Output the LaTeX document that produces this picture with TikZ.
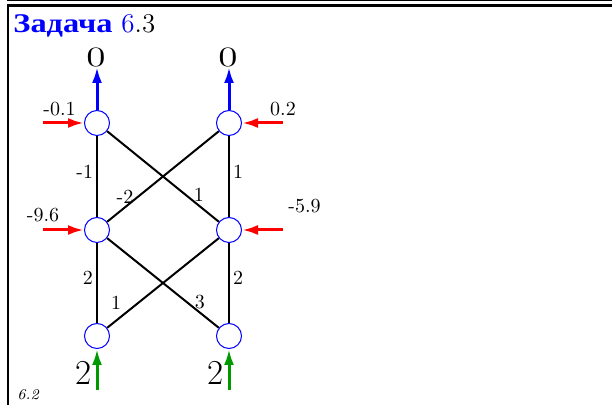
\documentclass[tikz,border=0pt]{standalone}
\usepackage{fontspec}
\usepackage{graphicx}
\newfontfamily\cyrfont[FakeStretch=1.2]{Liberation Serif}
\usetikzlibrary{arrows.meta,positioning}
\definecolor{neuroncolor}{RGB}{0,0,255}
\definecolor{biascolor}{RGB}{255,0,0}
\definecolor{inputcolor}{RGB}{0,153,0}

\begin{document}
\begin{tikzpicture}[
    x=0.5pt, y=-0.5pt,
    every node/.style={inner sep=0pt},
    neuron/.style={circle, draw=neuroncolor, line width=0.5pt, fill=white, minimum size=12.5pt},
    weight/.style={line width=1pt, black},
    wlabel/.style={font=\fontsize{10}{12}\selectfont, inner sep=1.5pt},
    biaslabel/.style={font=\fontsize{10}{12}\selectfont},
    biglabel/.style={font=\fontsize{14}{16}\selectfont},
    inlabel/.style={font=\fontsize{17.5}{20}\selectfont},
    arrow/.style={-{Latex[length=8pt,width=5pt]}, line width=1.5pt},
    outarrow/.style={arrow, neuroncolor},
    biasarrow/.style={arrow, biascolor},
    inarrow/.style={arrow, inputcolor}
]
\useasboundingbox (0,0) rectangle (612,405);

% Frame
\draw[line width=0.5pt] (7,0.5) -- (612,0.5);
\draw[line width=1.4pt] (7,5.4) -- (612,5.4);
\draw[line width=1.2pt] (8,5) -- (8,405);

% Title
\node[anchor=base west] (title) at (13,33) {\fontsize{13.5}{15}\selectfont
    {\cyrfont\bfseries\textcolor{neuroncolor}{Задача}}\hspace{4.5pt}\textcolor{neuroncolor}{6}.3};

% Neurons
\node[neuron] (o1) at (97,123) {};
\node[neuron] (o2) at (229,123) {};
\node[neuron] (h1) at (97,230) {};
\node[neuron] (h2) at (229,230) {};
\node[neuron] (i1) at (97,336) {};
\node[neuron] (i2) at (229,336) {};

% Weights
\draw[weight] (o1) -- node[wlabel, left, pos=0.44] {-1} (h1);
\draw[weight] (o2) -- node[wlabel, right, pos=0.44] {1} (h2);
\draw[weight] (o1) -- node[wlabel, above, pos=0.82] {1} (h2);
\draw[weight] (o2) -- node[wlabel, above, pos=0.84] {-2} (h1);
\draw[weight] (h1) -- node[wlabel, left, pos=0.43] {2} (i1);
\draw[weight] (h2) -- node[wlabel, right, pos=0.43] {2} (i2);
\draw[weight] (h1) -- node[wlabel, above, pos=0.83] {3} (i2);
\draw[weight] (h2) -- node[wlabel, above left, pos=0.84] {1} (i1);

% Outputs
\node[biglabel] (y1) at (96,57) {\scalebox{1.4}[1]{0}};
\node[biglabel] (y2) at (228,57) {\scalebox{1.4}[1]{0}};
\draw[outarrow] (o1) -- (o1 |- y1.south);
\draw[outarrow] (o2) -- (o2 |- y2.south);

% Biases
\coordinate (b1) at (43,123);
\coordinate (b2) at (283,123);
\coordinate (b3) at (43,230);
\coordinate (b4) at (283,230);
\draw[biasarrow] (b1) -- (o1);
\draw[biasarrow] (b2) -- (o2);
\draw[biasarrow] (b3) -- (h1);
\draw[biasarrow] (b4) -- (h2);
\node[biaslabel, above right=3.5pt and 0pt of b1] (bl1) {-0.1};
\node[biaslabel, above=3.5pt of b2] (bl2) {0.2};
\node[biaslabel, above=4pt of b3] (bl3) {-9.6};
\node[biaslabel, above right=8.5pt and 2.5pt of b4] (bl4) {-5.9};

% Inputs
\coordinate (x1) at (97,390);
\coordinate (x2) at (229,390);
\draw[inarrow] (x1) -- (i1);
\draw[inarrow] (x2) -- (i2);
\node[inlabel] (in1) at (84,373) {2};
\node[inlabel] (in2) at (216,373) {2};

% Figure number
\node[anchor=base west, font=\fontsize{7.5}{9}\selectfont\itshape] (figno) at (17,400) {6.2};
\end{tikzpicture}
\end{document}
